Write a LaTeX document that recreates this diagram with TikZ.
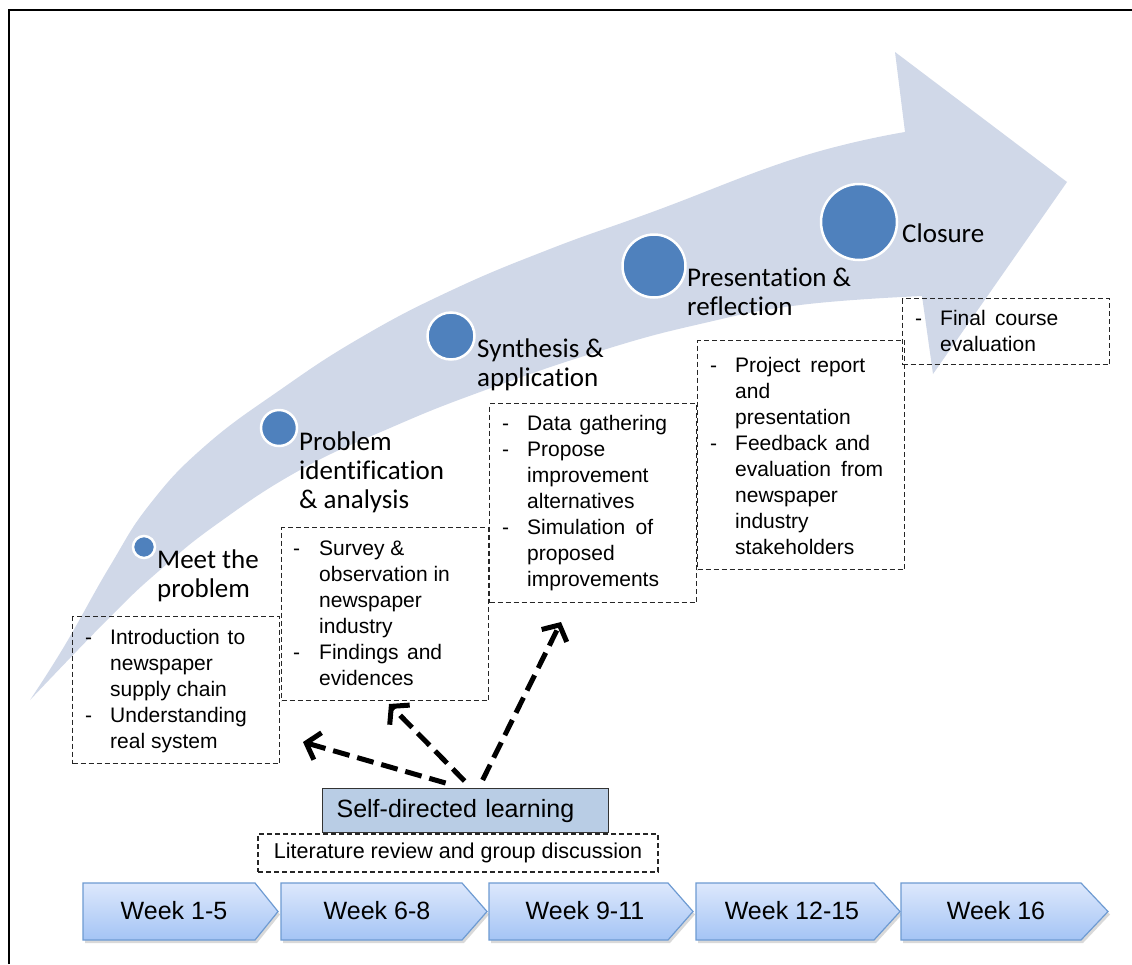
\documentclass[tikz,border=0pt]{standalone}
\usepackage{fontspec}
\setmainfont{Liberation Sans}
\newfontfamily\calib[Ligatures=NoCommon]{Carlito}
\usetikzlibrary{arrows.meta}
\definecolor{band}{HTML}{D0D8E8}
\definecolor{dot}{HTML}{4F81BD}
\definecolor{sdlfill}{HTML}{B9CDE5}
\definecolor{chevtop}{HTML}{DDE8FC}
\definecolor{chevbot}{HTML}{A4C4F5}
\definecolor{chevline}{HTML}{6E9BD2}
\begin{document}
\begin{tikzpicture}[x=1pt,y=-1pt,
 stage/.style={font=\calib\fontsize{27}{29}\selectfont, align=left, inner sep=0pt, anchor=north west, text=black},
 dbox/.style={draw=black!85, dash pattern=on 5pt off 3pt, line width=1.1pt, anchor=north west, inner sep=0pt},
 btext/.style={font=\fontsize{21}{26}\selectfont, inner sep=0pt, anchor=north west, text=black},
 milestone/.style={circle, fill=dot, draw=white, line width=2.5pt, inner sep=0pt},
 chev/.style={top color=chevtop, bottom color=chevbot, draw=chevline, line width=1.2pt},
 chevshadow/.style={fill=black!15},
 weektext/.style={font=\fontsize{25}{30}\selectfont, inner sep=0pt, text=black},
 bigdash/.style={line width=5pt, dash pattern=on 17pt off 8pt, -{Straight Barb[length=12pt,width=28pt]}},
 sdlbox/.style={anchor=north west, draw=black!80, fill=sdlfill, line width=1.2pt, minimum width=286pt, minimum height=44pt, text width=258pt, inner xsep=14pt, inner ysep=0pt, align=left, font=\fontsize{25}{30}\selectfont},
 litbox/.style={draw=black!85, dash pattern=on 5pt off 3pt, line width=1.1pt, minimum width=400pt, minimum height=38pt, inner sep=0pt, font=\fontsize{21.5}{26}\selectfont},
]
\useasboundingbox (0,0) rectangle (1132,964);
\fill[white] (0,0) rectangle (1132,964);
% frame
\draw[line width=2pt] (9,964) -- (9,10) -- (1132,10);

% big curved arrow
\fill[band] plot[smooth, tension=0.75] coordinates {(30,700) (65,645) (110,566) (150,504) (205,446) (280,390) (360,338) (450,291) (550,249) (655,211) (800,157) (905,132)}
  -- (895,52) -- (1067,182) -- (933,374) -- (922,296)
  -- plot[smooth, tension=0.75] coordinates {(922,296) (800,305) (700,324) (600,351) (480,392) (390,428) (300,470) (217,524) (160,570) (110,617) (30,700)} -- cycle;

% milestones
\node[milestone, minimum size=22pt] (m1) at (144,547) {};
\node[milestone, minimum size=36pt] (m2) at (279,428) {};
\node[milestone, minimum size=47pt] (m3) at (451,336) {};
\node[milestone, minimum size=63pt] (m4) at (654,266) {};
\node[milestone, minimum size=76pt] (m5) at (859,222) {};

% stage labels
\node[stage] (L1) at (157,550) {Meet the\\problem};
\node[stage] (L2) at (299,432) {Problem\\identification\\\& analysis};
\node[stage] (L3) at (477,339) {Synthesis \&\\application};
\node[stage] (L4) at (687,268) {Presentation \&\\reflection};
\node[stage] (L5) at (902,224) {Closure};

% dashed boxes
\node[dbox, minimum width=207pt, minimum height=147pt] (b1) at (72,616) {};
\node[dbox, minimum width=207pt, minimum height=173pt] (b2) at (281,527) {};
\node[dbox, minimum width=207pt, minimum height=199pt] (b3) at (489,403) {};
\node[dbox, minimum width=207pt, minimum height=229pt] (b4) at (697,340) {};
\node[dbox, minimum width=207pt, minimum height=66pt] (b5) at (902,298) {};

\node[btext] (t1) at (85,626) {\begin{tabular}{@{}p{25pt}@{}l@{}}
-& \makebox[135pt][s]{Introduction to}\\
 & newspaper\\
 & supply chain\\
-& Understanding\\
 & real system
\end{tabular}};
\node[btext] (t2) at (293,537) {\begin{tabular}{@{}p{26pt}@{}l@{}}
-& Survey \&\\
 & observation in\\
 & newspaper\\
 & industry\\
-& \makebox[123pt][s]{Findings and}\\
 & evidences
\end{tabular}};
\node[btext] (t3) at (502,412) {\begin{tabular}{@{}p{25pt}@{}l@{}}
-& \makebox[140pt][s]{Data gathering}\\
-& Propose\\
 & improvement\\
 & alternatives\\
-& \makebox[126pt][s]{Simulation of}\\
 & proposed\\
 & improvements
\end{tabular}};
\node[btext] (t4) at (710,354) {\begin{tabular}{@{}p{25pt}@{}l@{}}
-& \makebox[130pt][s]{Project report}\\
 & and\\
 & presentation\\
-& \makebox[135pt][s]{Feedback and}\\
 & \makebox[148pt][s]{evaluation from}\\
 & newspaper\\
 & industry\\
 & stakeholders
\end{tabular}};
\node[btext] (t5) at (915,307) {\begin{tabular}{@{}p{25pt}@{}l@{}}
-& \makebox[118pt][s]{Final course}\\
 & evaluation
\end{tabular}};

% self-directed learning
\node[sdlbox] (sdl) at (322,788) {Self-directed learning};
\node[litbox] (lit) at (458,853) {Literature review and group discussion};

\coordinate (s1) at ([shift={(-20,-5)}]sdl.north);
\coordinate (s2) at ([shift={(-1,-7)}]sdl.north);
\coordinate (s3) at ([shift={(17,-8)}]sdl.north);
\coordinate (e1) at (303,742);
\coordinate (e2) at (389,704);
\coordinate (e3) at (561,622);
\draw[bigdash] (s1) -- (e1);
\draw[bigdash] (s2) -- (e2);
\draw[bigdash] (s3) -- (e3);

% week chevrons
\foreach \xa/\xb/\xc in {83/255/278, 281/462/487, 489/668/693, 696/874/900, 901/1081/1108}{
  \fill[chevshadow] (\xa+2,886) -- (\xb+2,886) -- (\xc+2,914.5) -- (\xb+2,943) -- (\xa+2,943) -- cycle;
  \path[chev] (\xa,883) -- (\xb,883) -- (\xc,911.5) -- (\xb,940) -- (\xa,940) -- cycle;
}
\node[weektext] (w1) at (174,911) {Week 1-5};
\node[weektext] (w2) at (377,911) {Week 6-8};
\node[weektext] (w3) at (585,911) {Week 9-11};
\node[weektext] (w4) at (792,911) {Week 12-15};
\node[weektext] (w5) at (996,911) {Week 16};
\end{tikzpicture}
\end{document}
